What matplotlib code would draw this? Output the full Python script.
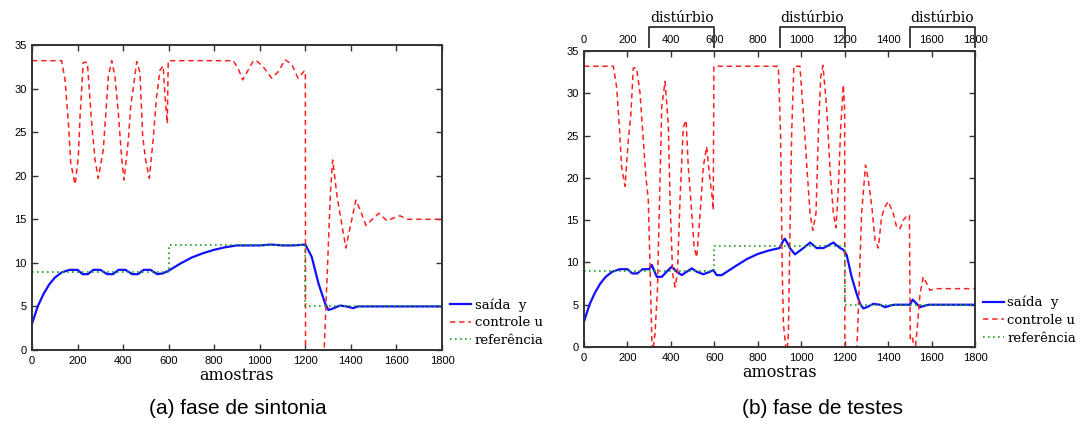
import matplotlib
matplotlib.use("Agg")
import matplotlib.pyplot as plt
import matplotlib.transforms as mtransforms

# ---- dados ----
# (a) fase de sintonia
t_u_a = [0, 130, 145, 160, 170, 189, 203, 211, 225, 243,
         262, 277, 291, 313, 325, 335, 350, 364, 379, 394,
         404, 423, 433, 445, 460, 474, 486, 499, 515, 532,
         547, 562, 576, 584, 594, 598, 884, 905, 925, 942,
         972, 985, 1015, 1052, 1080, 1111, 1140, 1168, 1195, 1200,
         1201, 1278, 1295, 1310, 1320, 1340, 1378, 1400, 1422, 1445,
         1466, 1490, 1523, 1557, 1615, 1650, 1800]
u_a = [33.2, 33.2, 31.0, 26.0, 21.5, 19.0, 22.0, 26.8, 33.0, 33.0,
       26.0, 21.8, 19.7, 23.0, 27.5, 31.4, 33.2, 31.4, 27.2, 21.9,
       19.5, 24.1, 27.9, 30.2, 33.1, 31.8, 24.5, 21.8, 19.7, 24.2,
       29.1, 32.1, 32.6, 29.1, 26.0, 33.2, 33.2, 32.3, 31.0, 31.8,
       33.2, 33.2, 32.5, 31.2, 31.9, 33.3, 32.8, 31.2, 32.0, 32.0,
       -3.0, -3.0, 8.0, 18.0, 21.8, 17.5, 11.7, 14.5, 17.2, 15.8,
       14.3, 14.9, 15.7, 14.85, 15.4, 15.0, 15.0]

t_y_a = [0, 25, 50, 75, 100, 130, 165, 200, 222, 245,
         270, 300, 330, 355, 380, 410, 440, 465, 490, 520,
         550, 575, 600, 650, 700, 750, 800, 850, 900, 950,
         1000, 1050, 1100, 1150, 1200, 1228, 1257, 1286, 1301, 1315,
         1352, 1381, 1410, 1430, 1800]
y_a = [3.0, 5.0, 6.4, 7.5, 8.3, 8.9, 9.2, 9.2, 8.7, 8.7,
       9.2, 9.2, 8.7, 8.7, 9.2, 9.2, 8.7, 8.7, 9.2, 9.2,
       8.7, 8.8, 9.1, 9.9, 10.6, 11.1, 11.5, 11.8, 12.0, 12.0,
       12.0, 12.1, 12.0, 12.0, 12.1, 10.7, 7.7, 5.4, 4.6, 4.7,
       5.1, 5.0, 4.8, 5.0, 5.0]

# (b) fase de testes
t_u_b = [0, 135, 150, 163, 173, 189, 204, 215, 227, 242,
         258, 273, 285, 296, 304, 314, 327, 338, 347, 358,
         373, 388, 396, 408, 419, 430, 442, 457, 470, 480,
         496, 507, 519, 537, 549, 565, 577, 588, 595, 598,
         895, 905, 912, 918, 933, 941, 948, 956, 966, 994,
         1010, 1028, 1041, 1053, 1068, 1079, 1090, 1100, 1117, 1132,
         1148, 1160, 1171, 1182, 1194, 1200, 1201, 1255, 1263, 1278,
         1296, 1309, 1325, 1340, 1355, 1370, 1386, 1401, 1424, 1440,
         1455, 1470, 1489, 1498, 1502, 1512, 1522, 1532, 1547, 1562,
         1578, 1593, 1616, 1800]
u_b = [33.2, 33.2, 30.8, 26.0, 21.3, 19.0, 24.5, 27.2, 33.0, 33.0,
       30.0, 24.5, 20.1, 17.4, 9.5, -1.0, 1.6, 6.7, 16.6, 28.4,
       31.4, 26.4, 17.4, 8.7, 7.1, 8.7, 17.4, 26.0, 26.8, 21.3,
       15.8, 11.8, 10.6, 16.6, 21.3, 23.7, 20.5, 18.2, 16.2, 33.2,
       33.2, 25.0, 10.0, 2.7, -1.0, 1.6, 13.4, 25.3, 33.2, 33.2,
       27.6, 20.5, 15.8, 13.8, 15.8, 25.3, 32.0, 33.3, 28.4, 21.3,
       15.8, 14.1, 18.9, 26.0, 31.0, 28.0, -3.0, -1.0, 4.4, 15.8,
       21.5, 19.7, 16.6, 12.6, 11.7, 15.4, 16.6, 17.2, 15.8, 14.1,
       14.0, 15.0, 15.6, 15.6, 1.0, 1.3, -1.0, 1.6, 6.3, 8.3,
       7.5, 6.7, 6.9, 6.9]

t_y_b = [0, 25, 50, 75, 100, 130, 165, 200, 222, 245,
         270, 300, 312, 335, 358, 388, 404, 427, 450, 473,
         496, 519, 549, 580, 595, 611, 634, 700, 750, 800,
         850, 900, 918, 925, 948, 971, 1010, 1041, 1071, 1102,
         1117, 1148, 1179, 1194, 1209, 1232, 1255, 1271, 1286, 1301,
         1332, 1363, 1386, 1409, 1430, 1500, 1513, 1532, 1547, 1570,
         1590, 1800]
y_b = [3.0, 5.0, 6.4, 7.5, 8.3, 8.9, 9.2, 9.2, 8.7, 8.7,
       9.2, 9.2, 9.7, 8.3, 8.3, 9.1, 9.5, 8.9, 8.5, 8.9,
       9.3, 8.9, 8.6, 8.9, 9.1, 8.5, 8.5, 9.6, 10.4, 11.0,
       11.4, 11.7, 12.6, 12.8, 11.7, 10.95, 11.7, 12.35, 11.7, 11.7,
       11.9, 12.35, 11.7, 11.5, 10.9, 8.3, 6.3, 5.1, 4.56, 4.7,
       5.1, 5.0, 4.7, 4.9, 5.0, 5.0, 5.6, 5.1, 4.7, 4.9,
       5.0, 5.0]

# referência (degraus)
t_ref = [0, 600, 600, 1200, 1200, 1800]
ref = [9, 9, 12, 12, 5, 5]

# intervalos de distúrbio no teste
disturb = [(300, 600), (900, 1200), (1500, 1800)]

labels = ["saída  y", "controle u", "referência"]
captions = ["(a) fase de sintonia", "(b) fase de testes"]

# ---- figura ----
fig = plt.figure(figsize=(10.81, 4.32), dpi=100)
W, H = 1081, 432

def px_axes(x0, y0, x1, y1):
    return fig.add_axes([x0 / W, 1 - y1 / H, (x1 - x0) / W, (y1 - y0) / H])

ax_a = px_axes(32, 45, 442, 350)
ax_b = px_axes(584, 51, 975, 347)

serif = ["DejaVu Serif"]
blue, red, green = "#1010ff", "#ff2020", "#20a020"

for ax, ty, yy, tu, uu in [(ax_a, t_y_a, y_a, t_u_a, u_a),
                           (ax_b, t_y_b, y_b, t_u_b, u_b)]:
    ax.plot(ty, yy, color=blue, lw=1.6, label=labels[0])
    ax.plot(tu, uu, color=red, lw=1.1, linestyle=(0, (3.5, 2.5)), label=labels[1])
    ax.plot(t_ref, ref, color=green, lw=1.2, linestyle=(0, (1, 2)), label=labels[2])
    ax.set_xlim(0, 1800)
    ax.set_ylim(0, 35)
    ax.set_xticks(range(0, 1801, 200))
    ax.set_yticks(range(0, 36, 5))
    ax.tick_params(direction="in", length=4, width=1, top=True, right=True,
                   labelsize=8, pad=4, colors="#333333", labelcolor="black")
    for sp in ax.spines.values():
        sp.set_linewidth(1.4)
        sp.set_color("#333333")
    ax.set_xlabel("amostras", family=serif, fontsize=11.5, labelpad=1)
    ax.legend(loc="center left", frameon=False,
              prop={"family": serif, "size": 9.5},
              handlelength=1.6, handletextpad=0.25, labelspacing=0.35,
              borderaxespad=0, borderpad=0,
              bbox_to_anchor=(1.02, 0.09))

ax_b.tick_params(labeltop=True)
for ax in (ax_a, ax_b):
    for lab in ax.get_xticklabels(which="both") + ax.get_yticklabels():
        lab.set_family("Liberation Sans")
for lab in ax_b.xaxis.get_ticklabels(minor=False):
    lab.set_family("Liberation Sans")
for t in ax_b.xaxis.get_major_ticks():
    t.label2.set_family("Liberation Sans")

# colchetes dos distúrbios
trans = mtransforms.blended_transform_factory(ax_b.transData, ax_b.transAxes)
for a, b in disturb:
    ax_b.plot([a, a, b, b], [1.013, 1.081, 1.081, 1.013], color="#333333",
              lw=1.3, transform=trans, clip_on=False)
    ax_b.text((a + b) / 2, 1.088, "distúrbio", transform=trans, ha="center",
              va="bottom", family=serif, fontsize=10)

fig.text(238 / W, 1 - 408 / H, captions[0], ha="center", va="center",
         family="Liberation Sans", fontsize=15)
fig.text(822 / W, 1 - 408 / H, captions[1], ha="center", va="center",
         family="Liberation Sans", fontsize=15)

fig.savefig("out.png", dpi=100)
